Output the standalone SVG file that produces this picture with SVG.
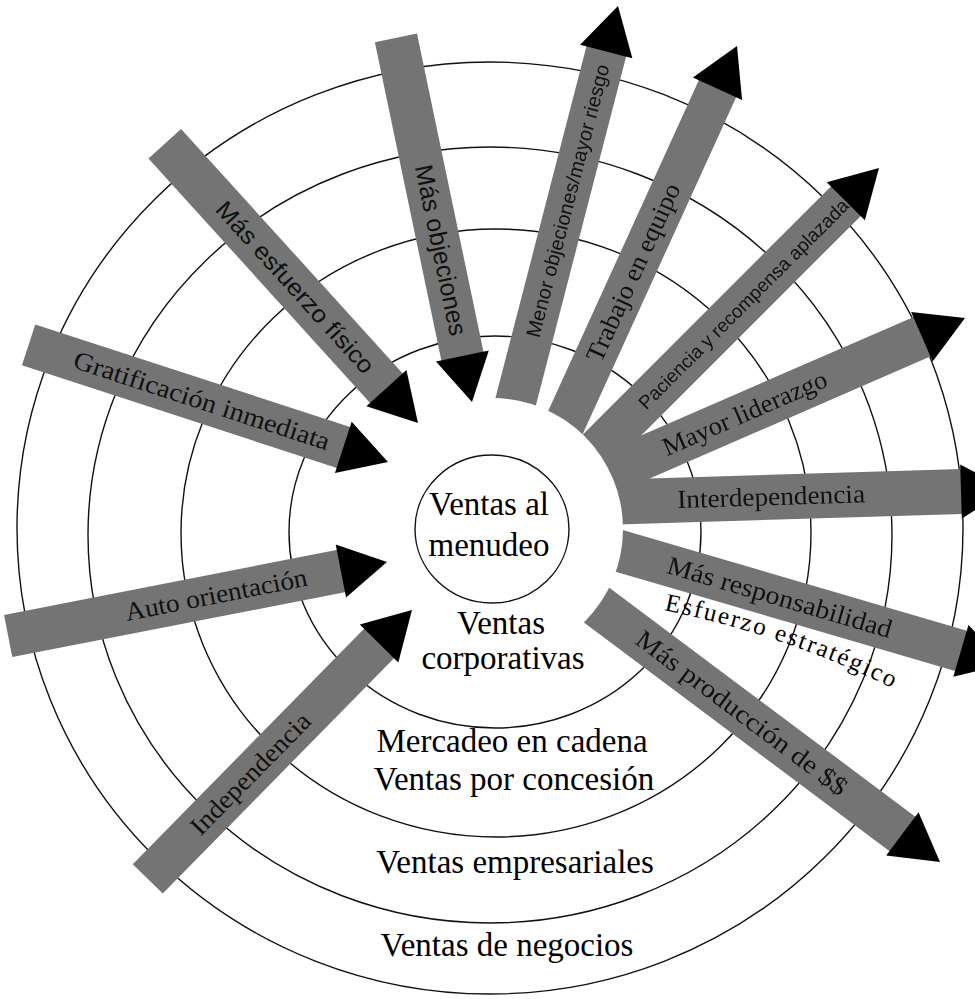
<svg xmlns="http://www.w3.org/2000/svg" width="975" height="999" viewBox="0 0 975 999">
<defs>
<style>
.ring{fill:none;stroke:#111;stroke-width:1.4}
.band{fill:#747474}
.head{fill:#000}
.lab{font-family:"Liberation Serif","Times New Roman",serif;font-size:33px;fill:#000;text-anchor:middle}
.bt{font-family:"Liberation Serif","Times New Roman",serif;font-size:26px;fill:#111;text-anchor:middle}
.bs{font-family:"Liberation Sans",Arial,sans-serif;fill:#111;text-anchor:middle}
</style>
<path id="head" d="M-47,-27 L0,0 L-47,27 Z"/>
<mask id="hole" maskUnits="userSpaceOnUse" x="0" y="0" width="975" height="999">
<rect width="975" height="999" fill="#fff"/>
<circle cx="492" cy="529" r="131" fill="#000"/>
</mask>
<path id="estr" d="M664,610 Q790,636 900,692"/>
</defs>
<rect width="975" height="999" fill="#fff"/>
<g id="rings">
<ellipse class="ring" cx="490" cy="528" rx="473" ry="466"/>
<ellipse class="ring" cx="490" cy="535" rx="402" ry="388"/>
<ellipse class="ring" cx="496" cy="533" rx="315" ry="304"/>
<ellipse class="ring" cx="495" cy="532" rx="206" ry="196"/>
</g>
<g id="connectors">
<g id="a-gratificacion" transform="translate(388,462) rotate(18.05)">
<rect class="band" x="-378" y="-21.5" width="332" height="43"/>
<use href="#head" class="head"/>
<text class="bt" x="-196" y="8" textLength="268" lengthAdjust="spacingAndGlyphs">Gratificación inmediata</text>
</g>
<g id="a-esfuerzo-fisico" transform="translate(418,423) rotate(47.8)">
<rect class="band" x="-377" y="-22" width="331" height="44"/>
<use href="#head" class="head"/>
<text class="bs" font-size="24" x="-183" y="8" textLength="223" lengthAdjust="spacingAndGlyphs">Más esfuerzo físico</text>
</g>
<g id="a-mas-objeciones" transform="translate(472,402) rotate(78.2)">
<rect class="band" x="-372" y="-21.5" width="326" height="43"/>
<use href="#head" class="head"/>
<text class="bs" font-size="25" x="-155" y="8" textLength="174" lengthAdjust="spacingAndGlyphs">Más objeciones</text>
</g>
<g id="a-auto-orientacion" transform="translate(387,562) rotate(-11.05)">
<rect class="band" x="-386" y="-21.5" width="340" height="43"/>
<use href="#head" class="head"/>
<text class="bt" x="-174" y="8" textLength="185" lengthAdjust="spacingAndGlyphs">Auto orientación</text>
</g>
<g id="a-independencia" transform="translate(412,610) rotate(-45.5)">
<rect class="band" x="-377" y="-21" width="331" height="42"/>
<use href="#head" class="head"/>
<text class="bt" x="-230" y="8" textLength="160" lengthAdjust="spacingAndGlyphs">Independencia</text>
</g>
<g id="outward" mask="url(#hole)">
<g id="a-menor-objeciones" transform="translate(618,6) rotate(-75.5)">
<rect class="band" x="-500" y="-20.5" width="454" height="41"/>
<use href="#head" class="head"/>
<text class="bs" font-size="20" x="-201" y="7" textLength="281" lengthAdjust="spacingAndGlyphs">Menor objeciones/mayor riesgo</text>
</g>
<g id="a-trabajo" transform="translate(737,46) rotate(-65.5)">
<rect class="band" x="-500" y="-20.5" width="454" height="41"/>
<use href="#head" class="head"/>
<text class="bt" x="-249" y="8" textLength="193" lengthAdjust="spacingAndGlyphs">Trabajo en equipo</text>
</g>
<g id="a-paciencia" transform="translate(879,168) rotate(-45)">
<rect class="band" x="-490" y="-21" width="444" height="42"/>
<use href="#head" class="head"/>
<text class="bs" font-size="19" x="-192" y="7" textLength="288" lengthAdjust="spacingAndGlyphs">Paciencia y recompensa aplazada</text>
</g>
<g id="a-liderazgo" transform="translate(965,318) rotate(-23.5)">
<rect class="band" x="-480" y="-21.5" width="434" height="43"/>
<use href="#head" class="head"/>
<text class="bt" x="-240" y="8" textLength="177" lengthAdjust="spacingAndGlyphs">Mayor liderazgo</text>
</g>
<g id="a-interdependencia" transform="translate(1008,490) rotate(-1.75)">
<rect class="band" x="-480" y="-22.5" width="434" height="45"/>
<use href="#head" class="head"/>
<text class="bt" x="-237" y="8" textLength="188" lengthAdjust="spacingAndGlyphs">Interdependencia</text>
</g>
<g id="a-responsabilidad" transform="translate(1006,664) rotate(16.3)">
<rect class="band" x="-490" y="-21" width="444" height="42"/>
<use href="#head" class="head"/>
<text class="bt" x="-236" y="8" textLength="233" lengthAdjust="spacingAndGlyphs">Más responsabilidad</text>
</g>
<g id="a-produccion" transform="translate(940,862) rotate(36.8)">
<rect class="band" x="-520" y="-21.5" width="474" height="43"/>
<use href="#head" class="head"/>
<text class="bt" x="-248" y="8" textLength="257" lengthAdjust="spacingAndGlyphs">Más producción de $$</text>
</g>
</g>
</g>
<g id="n-menudeo">
<ellipse class="ring" cx="492" cy="529" rx="77" ry="74"/>
<text class="lab" x="489" y="515">Ventas al</text>
<text class="lab" x="489" y="556">menudeo</text>
</g>
<g id="n-corporativas">
<text class="lab" font-size="32" x="501" y="634">Ventas</text>
<text class="lab" font-size="32" x="503" y="669">corporativas</text>
</g>
<g id="n-cadena">
<text class="lab" x="512" y="752">Mercadeo en cadena</text>
<text class="lab" x="514" y="790">Ventas por concesión</text>
</g>
<g id="n-empresariales">
<text class="lab" x="515" y="873">Ventas empresariales</text>
</g>
<g id="n-negocios">
<text class="lab" x="507" y="956">Ventas de negocios</text>
</g>
<g id="n-estrategico">
<text font-family="Liberation Serif, Times New Roman, serif" font-size="25" letter-spacing="2" fill="#000"><textPath href="#estr">Esfuerzo estratégico</textPath></text>
</g>
</svg>
